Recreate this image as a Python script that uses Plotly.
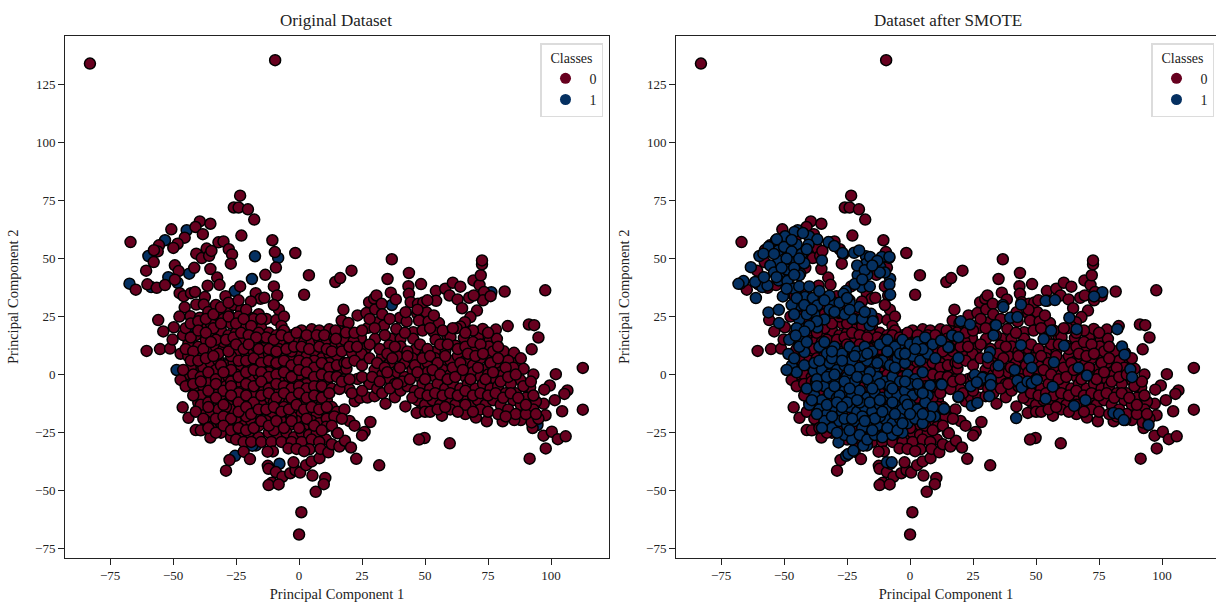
import plotly.graph_objects as go

RED = "#67001f"
BLUE = "#053061"

# Class 0 samples: (PC1, PC2)
outliers_0 = [(-83, 134), (-9.5, 135.5)]
upper_left_0 = [
    (-23.4,77.1),(-25.9,72),(-24,72),(-20.3,71.2),(-17.8,66.8),(-22.9,59.9),(-10.6,57.9),(-1.5,52.4),(-9.6,52.8),
    (-9.2,46.1),(-13.4,43),(3.9,42.8),(2,34.4),(14.4,39.9),(-10,38),(-8.7,34.1),(-66.9,57.1),(-50.7,62.6),
    (-39.4,66),(-35.2,65),(-41.1,63.6),(-38.2,60.5),(-45.4,59),(-48.2,56.4),(-49.9,54.6),(-55.6,55.7),(-56.1,53.1),
    (-57.6,53.6),(-57.7,48.5),(-60.7,44.8),(-49.3,47.1),(-47.8,44.6),(-41.6,46),(-40.8,52.1),(-38.6,50.2),(-36.7,54.3),
    (-35.7,51.2),(-34.8,53.3),(-32,57),(-30,57.4),(-27.9,54),(-26.6,51.8),(-27.1,47.8),(-35.2,45.5),(-32.5,41.8),
    (-31.6,38.7),(-36.3,38.3),(-60.2,38.9),(-64.8,36.6),(-56.5,37.4),(-53.2,38.6),(-49.3,40.9),(-23.4,38),(-29.2,33.8),
    (-17.2,35.1),(-15.3,32.7),(-13.8,33.1),(-19.1,31.5),(-47.4,35.1),(-45.8,33.8),(-42.9,35.1),(-41.3,35.6),(-37.4,33.4),
    (-45.4,29),(-40.8,30.2),(-37.8,30.2),(-47.5,25),(-43.1,25.2),(-39.4,24.5),(-55.9,23.5),(-49.7,20.4),(-53.9,18.6),
    (-60.5,10.2),(-55.2,11),(-51.2,11.2),(-50.2,15.1),(-16,26),(-13,24),(-9,23.5),(-8,28),(-10,30),(-6,25),(-7,21),
    (-3,17),(1,19),(5,19.5),(8,19),(12,19.5),(16,19),(19,17),
]
core_0 = [
    (-46,17),(-44,13),(-47,9),(-44,8),(-41,17),(-38,20),(-35,22),(-32,26),(-29,28),(-26,30),(-23,28),(-20,25),
    (-36,27),(-33,30),(-30,24),(-27,22),(-24,25),(-21,21),(-18,19),(-15,20),(-12,18),(-9,17),(-6,19),(-40,12),
    (-37,15),(-34,17),(-31,19),(-28,17),(-25,18),(-22,15),(-19,14),(-16,15),(-13,13),(-10,12),(-7,14),(-4,12),
    (-1,15),(2,14),(5,14),(8,15),(11,14),(14,12),(17,13),(-42,5),(-39,8),(-36,10),(-33,12),(-30,11),(-27,13),
    (-24,10),(-21,9),(-18,10),(-15,8),(-12,9),(-9,7),(-6,9),(-3,7),(0,9),(3,8),(6,10),(9,7),(12,9),(15,7),
    (-44,0),(-41,2),(-38,3),(-35,5),(-32,6),(-29,4),(-26,5),(-23,3),(-20,4),(-17,5),(-14,3),(-11,4),(-8,2),
    (-5,4),(-2,2),(1,4),(4,3),(7,1),(10,3),(13,1),(16,2),(-47,-2.3),(-43,-4),(-40,-2),(-37,-1),(-34,0),(-31,-2),
    (-28,-1),(-25,0),(-22,-2),(-19,-1),(-16,0),(-13,-2),(-10,-1),(-7,-3),(-4,-1),(-1,-3),(2,-1),(5,-3),(8,-2),
    (11,-4),(-41,-7),(-38,-5),(-35,-6),(-32,-8),(-29,-5),(-26,-7),(-23,-5),(-20,-7),(-17,-5),(-14,-7),(-11,-5),
    (-8,-7),(-5,-6),(-2,-8),(1,-6),(4,-8),(7,-6),(10,-8),(-40,-12),(-37,-10),(-34,-12),(-31,-10),(-28,-12),(-25,-10),
    (-22,-12),(-19,-10),(-16,-12),(-13,-10),(-10,-12),(-7,-10),(-4,-12),(-1,-10),(2,-12),(5,-10),(8,-12),(11,-11),
    (-38,-15),(-35,-17),(-32,-15),(-29,-17),(-26,-15),(-23,-17),(-20,-15),(-17,-17),(-14,-15),(-11,-17),(-8,-15),
    (-5,-17),(-2,-15),(1,-17),(4,-15),(7,-17),(10,-15),(13,-14),(15,-16),(-46.2,-14.1),(-43.9,-18.6),(-41,-23.9),
    (-35.2,-27.1),(-37,-20),(-34,-22),(-31,-21),(-28,-23),(-25,-20),(-22,-22),(-19,-20),(-16,-22),(-13,-20),(-10,-22),
    (-7,-20),(-4,-22),(-1,-20),(2,-22),(5,-20),(8,-21),(11,-19),(-31,-25),(-27,-27),(-23,-26),(-20,-25),(-16,-27),
    (-12,-25),(-8.4,-26.8),(-5,-25),(-2,-27),(1,-25),(4,-26),(7,-25),(10.7,-22.5),(15,-25),(10.7,-28),
    (-45,20),(-43,3),(-39,-9),(-30,14),(-17,12),(-8,11),(0,0),(-24,-3),(-12,1),(3,-4),(-33,2),(-18,-8),(-6,-14),
    (6,6),(-27,8),(-15,-13),(-3,-18),(9,-13),(-21,-18),(-10,-24),(-36,-3),(-29,-14),(-14,16),(-3,10),(12,5),
]
core_extra_0 = [
    (-43,22),(-40,23),(-37,24),(-34,26),(-31,29),(-28,31),(-24,32),(-21,28),(-18,24),(-15,24),(-34,20),(-31,22),(-28,25),
    (-25,22),(-22,24),(-19,21),(-16,18),(-13,16),(-10,15),(-7,17),(-43,16),(-40,19),(-37,18),(-33,15),(-29,15),(-26,16),
    (-23,18),(-20,17),(-17,16),(-4,16),(-1,18),(3,17),(7,17),(10,17),(14,16),(18,15),(-45,11),(-42,10),(-38,11),(-35,14),
    (-32,9),(-28,10),(-25,13),(-22,11),(-20,13),(-16,11),(-12,11),(-9,10),(-5,11),(-2,12),(1,12),(4,11),(8,12),(11,11),
    (13,10),(17,10),(-43,6),(-40,6),(-37,7),(-34,8),(-31,4),(-27,2),(-24,6),(-21,6),(-18,7),(-15,5),(-12,6),(-9,5),(-6,6),
    (-3,4),(0,6),(3,5),(6,3),(9,5),(12,3),(15,4),(18,5),(-46,2),(-42,0),(-39,-1),(-36,1),(-33,-2),(-30,1),(-27,-3),(-24,-1),
    (-21,1),(-18,2),(-15,1),(-12,-1),(-9,0),(-6,1),(-3,-1),(0,2),(3,1),(6,-1),(9,0),(12,-1),(15,-1),(18,-2),(-45,-5),
    (-42,-4),(-39,-3),(-36,-7),(-33,-4),(-30,-7),(-27,-5),(-24,-8),(-21,-4),(-18,-5),(-15,-3),(-12,-6),(-9,-4),(-6,-5),
    (-3,-6),(0,-5),(3,-6),(6,-5),(9,-5),(13,-6),(-42,-9),(-39,-13),(-36,-12),(-33,-10),(-30,-13),(-27,-9),(-24,-12),
    (-21,-9),(-18,-12),(-15,-9),(-12,-8),(-9,-10),(-6,-8),(-3,-10),(0,-8),(3,-10),(6,-9),(9,-10),(12,-8),(-41,-16),
    (-38,-19),(-36,-14),(-33,-19),(-30,-18),(-27,-19),(-24,-16),(-21,-14),(-19,-17),(-16,-15),(-13,-15),(-10,-14),(-7,-16),
    (-4,-15),(-1,-13),(2,-15),(5,-14),(8,-15),(11,-14),(14,-18),(-39,-24),(-36,-23),(-33,-25),(-30,-22),(-27,-24),(-24,-23),
    (-21,-24),(-18,-23),(-15,-20),(-12,-22),(-9,-20),(-6,-23),(-3,-20),(0,-23),(3,-19),(6,-22),(9,-24),(13,-22),(-25,-28),
    (-22,-29),(-19,-29),(-15,-29),(-11,-29),(-7,-29),(-3,-29),(1,-29),(5,-28),(8,-29),
]
lower_tail_0 = [
    (-29,-41.4),(-27.6,-36.8),(-22,-33.2),(-19.5,-36.4),(-12.4,-39.3),(-12.1,-40.6),(-9.2,-42),(-6.6,-44),(-3.5,-42.5),
    (-1.4,-41.2),(0.4,-42.2),(-2.2,-37.8),(2.8,-39),(5,-37.4),(8.1,-36),(5.3,-43.5),(10.4,-44.5),(9.8,-47.2),(6.6,-50.5),
    (0.9,-59.3),(0,-68.9),(-10.8,-46.6),(-12.1,-47.6),(-8.1,-47.3),(-4.2,-31.8),(4.1,-32.2),(8.5,-32),(11.6,-33.5),
    (-10.4,-33.1),(-12.5,-33.2),(-1,-32),(2,-33),(13,-30),(16,-31),(18.2,-28.5),(15.4,-25.3),(20.6,-31.4),(22.7,-36.3),
    (31.8,-39.1),(28.3,-20.4),(26,-24.7),(25,-26.2),
]
right_wing_0 = [
    (36.8,49.7),(20.8,44.8),(16.3,41.6),(43.6,43.8),(35.1,41.2),(48.4,39),(43.4,38.1),(43.6,34.8),(36.4,35.3),(38.4,32.4),
    (54.3,36),(54.4,31.8),(58,37),(61,39.6),(64,37.9),(59.7,34.1),(62.9,32.4),(64.7,28.6),(69.2,40.6),(71.6,38.6),(72.1,42.8),
    (72.6,47.5),(72.6,49.2),(73.4,35.6),(73,32),(76,33.8),(81.6,35.8),(97.7,36.3),(67.5,33.1),(69.3,34.1),(70.6,27.6),(68,24.8),
    (65.8,22.6),(64,20.7),(62.5,20),(82.8,20.9),(91.2,21.6),(93.3,21.3),(95,16),(92.3,10.9),(112.6,2.9),(101.9,0.2),(99.5,-4.7),
    (97.3,-6.5),(106.5,-6.8),(105.3,-8.3),(101.5,-11),(104.4,-15.8),(112.6,-15.1),(97.1,-12.6),(94,-11.6),(97.8,-17.5),(97,-26.3),
    (100.3,-24.6),(102.7,-27.8),(105.8,-26.6),(97.9,-31.8),(91.5,-36.2),(92.7,-23),(92.3,-20.6),(88,-19.6),(85.4,-19.6),(80.8,-20.1),
    (74.5,-20.1),(70.2,-18.5),(66,-17),(56.7,-17.7),(48,-15.8),(46.7,-16.5),(59.8,-29.6),(49.8,-27.3),(47.6,-28),(34.3,-12.5),
    (22.1,-11.5),(24.2,-10),(27.1,-9.9),(30,-9.3),(42.2,-13.7),(38,-9.8),(40.3,-6.9),(14.5,19),(16.9,23.3),(17.6,28),(19.6,22.2),
    (18.6,18.1),(23.2,25.5),(26.7,26.5),(27.8,31.2),(29.8,32.7),(30.7,34.1),(30.2,28.1),(32.8,30.5),(27.4,20.2),(31.1,22.6),(33.7,21.2),
    (24.5,15.8),(21.6,14.3),(30.2,15.4),(26.5,11.4),(21,9.4),(24.8,8.9),(18.8,2.5),(23.2,-1.9),(19.9,-6.2),(16,-6.2),(14.6,15.4),
    (38.6,19.7),(40,24.5),(42.7,22.9),(42.3,26.9),(46.9,26.2),(50.5,26.9),(47.6,23.3),(51.4,22.9),(55.5,22.2),(53.5,25.5),(44.3,31.2),
    (47.2,30.5),(49.3,31.1),(50.9,32),(45.3,18.3),(45.3,15.4),(53.5,18.3),(36.4,15.4),(40.3,15.4),(35.7,12.5),(40.3,12.1),(46.1,10.7),
    (54.2,15),(58.8,16.8),(60.1,16.1),(65.4,15.8),(71,16.1),(72.9,19.7),(78.1,19.4),(75.6,14.7),(78.5,15.4),(81.2,10.1),(85.3,9.4),
    (86.7,5.2),(89.1,2.5),(93,0),(91.7,-5.5),(87.8,-2.3),(83.8,-0.4),(80.5,3.2),(75.9,7.5),(75.3,12.1),(69.3,10.7),(62.1,12.4),
    (58,10),(53.9,9.7),(50.2,8.9),(33,8),(36,5),(39,8),(42,5),(45,7),(48,4),(51,5),(54,7),(57,4),(60,6),(63,8),(66,6),(69,4),(72,7),(75,3),
    (78,5),(30,2),(33,0),(36,-2),(39,1),(42,-1),(45,2),(48,-1),(51,1),(54,-1),(57,2),(60,0),(63,2),(66,-1),(69,1),(72,-1),(75,0),(78,-2),(81,0),
    (84,-4),(86,-8),(28,-4),(31,-6),(43,-5),(46,-7),(49,-4),(52,-6),(55,-4),(58,-6),(61,-4),(64,-6),(67,-4),(70,-6),(73,-4),(76,-6),(79,-5),
    (82,-8),(85,-11),(88,-13),(90,-10),(93,-15),(47,-11),(50,-13),(53,-11),(56,-13),(59,-11),(62,-13),(65,-10),(68,-13),(71,-11),(74,-13),
    (77,-11),(80,-13),(83,-15),(86,-17),(90,-17),(95,-19),(50,-16),(60,-15),(66,-13),(72,-15),(18,-15),(20,-20),(22,-22),(17,-19),
]
right_extra_0 = [
    (22,18),(25,19),(28,24),(33,26),(36,24),(20,12),(23,12),(28,13),(32,11),(35,9),(38,12),(43,10),(48,13),(51,11),(56,13),(59,13),
    (63,11),(66,12),(69,14),(72,13),(77,10),(79,12),(83,6),(85,3),(88,7),(19,5),(22,6),(25,4),(28,7),(31,5),(34,3),(37,7),(40,3),
    (43,8),(46,4),(49,7),(52,8),(55,5),(58,8),(61,3),(64,5),(67,9),(70,8),(73,9),(76,5),(79,7),(82,3),(17,-3),(20,-2),(25,-1),(29,-1),
    (32,-3),(35,1),(38,-4),(41,-3),(44,-2),(47,1),(50,-2),(53,2),(56,0),(59,-2),(62,-1),(65,2),(68,-2),(71,3),(74,-2),(77,1),(80,-3),
    (83,-1),(86,0),(89,-5),(92,-3),(21,-8),(25,-7),(33,-8),(36,-6),(39,-4),(45,-10),(48,-8),(51,-9),(54,-8),(57,-9),(60,-8),(63,-9),
    (66,-7),(69,-9),(72,-8),(75,-9),(78,-8),(81,-10),(84,-8),(87,-10),(90,-13),(93,-9),(52,-16),(55,-15),(58,-14),(63,-16),(69,-16),
    (75,-16),(79,-17),(82,-18),(94,-17),(49,19),(52,20),(57,19),(61,20),(42,18),(34,17),(30,20),(75,18),(69,19),(66,18),(47,28),
]

# Class 1 samples present in the original data
original_1 = [
    (-44.6,62.2),(-53.2,57.9),(-59.8,51.1),(-17.5,51),(-8.3,50.3),(-18.7,41.2),(-43.6,43.5),(-51.9,42),(-48.2,39.6),(-67.3,39.2),
    (-58.7,37.7),(-25.5,36),(-28.3,26.6),(-16,21.2),(-44.3,15.9),(-42.7,19.7),(-4.2,13.1),(2.1,9.1),(-41.9,9.7),(-29.5,4.8),
    (-48.6,2),(-38.2,1.5),(-26.2,7.5),(-37.4,-2.9),(3.5,-5.2),(-30.3,-14.8),(-35,-16),(9.8,-18),(-17.1,-30.5),(-18.6,-30.6),
    (-25.4,-35),(-7.8,-38.4),(-17.2,-18.4),(-32.8,-22),(36.8,30),(76.3,35.5),(27.5,-2.7),(94.6,-21.7),
]

# Class 1 samples added by SMOTE
smote_upper_1 = [
    (-45.9,61.5),(-49.6,59.6),(-52.9,58.3),(-56.2,55),(-58.2,52.1),(-45,56.1),(-40.1,59.6),(-36.8,58.3),(-40.3,56),(-52.2,53.5),
    (-52.2,48.9),(-55.5,47),(-47.2,48.5),(-48.9,45.3),(-44,42.8),(-35,49.2),(-63.2,46.3),(-66.1,40.3),(-68.1,39.1),(-61.5,39.9),
    (-56.6,38.4),(-52.2,40.6),(-48.7,40.3),(-61.2,33),(-50.5,33.7),(-46.3,37),(-41.7,33.4),(-38.6,33),(-56.2,26.8),(-52.1,27.9),
    (-52,22.2),(-43.6,29.8),(-44,23.8),(-36.8,29.8),(-34,23.8),(-36.8,20.3),(-30.4,31.2),(-26.4,34.8),(-28.4,27),(-22.9,24),
    (-20.2,29.1),(-15.5,26.2),(-14.8,23),(-32.4,57.1),(-30.1,55.4),(-26.8,52.4),(-22.2,52.5),(-20.2,53.5),(-17.4,47.8),(-15.9,50.7),
    (-20.8,42.9),(-19.2,37.7),(-11.2,50.7),(-8.2,50.7),(-11.9,46.4),(-7.9,41.3),(-8.2,38.9),(-7.9,34.5),(-54,52),(-50,55),(-47,53),
    (-43,52),(-49,50),(-54,44),(-58,42),(-46,46),(-51,46),(-42,48),(-44,38),(-40,38),(-36,36),(-32,34),(-28,31),(-24,31),(-38,26),
    (-32,28),(-26,26),(-19,24),(-41,26),(-47,30),(-17,43),(-21,47),(-13,49),(-10,44),(-16,38),(-22,39),(-42.5,61),(-47,58),
    (-44,50),(-41,54),(-46,43),(-53,42),(-49,37),(-45,33),(-42,30),(-39,28),(-34,32),(-30,27),(-24,28),(-18,27),(-25,33),(-12,44),
    (-18,45),(-15,47),(-19,41),(-37,23),(-40,21),(-46,26),(-45,20),(-48,15),
]
smote_core_1 = [
    (-41.9,18.6),(-45.4,16.8),(-48.3,8.9),(-47,3.9),(-45,1),(-49,2),(-44,12),(-41,14),(-46,7),(-42,4),(16.9,16.8),(15.6,11.8),
    (7.9,-4.7),(12.3,-4),(13.5,-14.8),(19.2,-9.8),(-28.4,-29.2),(-24.5,-34.2),(-22.5,-32.8),(-9.2,-37.8),(-7.3,-37.8),
    (-36,12),(-33,9),(-30,12),(-27,9),(-24,12),(-21,10),(-18,12),(-15,10),(-12,13),(-9,15),(-6,12),(-3,15),(0,13),(3,14),(6,16),(9,13),
    (-38,5),(-35,2),(-32,5),(-29,2),(-26,4),(-23,6),(-20,3),(-17,6),(-14,3),(-11,6),(-8,4),(-5,7),(-2,5),(1,8),(4,6),(7,9),(10,7),
    (-37,-2),(-34,-5),(-31,-2),(-28,-4),(-25,-1),(-22,-3),(-19,-1),(-16,-4),(-13,-1),(-10,-3),(-7,-1),(-4,-3),(-1,0),(2,-2),(5,1),
    (-38,-9),(-35,-11),(-32,-8),(-29,-10),(-26,-7),(-23,-9),(-20,-7),(-17,-10),(-14,-8),(-11,-10),(-8,-8),(-5,-9),(-2,-7),(1,-9),(4,-7),(7,-9),
    (-36,-15),(-33,-17),(-30,-14),(-27,-16),(-24,-14),(-21,-16),(-18,-14),(-15,-16),(-12,-13),(-9,-15),(-6,-13),(-3,-15),(0,-13),(3,-15),(6,-12),(9,-14),
    (-34,-20),(-31,-23),(-28,-20),(-25,-22),(-22,-20),(-19,-23),(-16,-20),(-13,-22),(-10,-19),(-7,-21),(-4,-19),(-1,-21),(2,-19),(5,-21),(8,-18),
    (-26,-26),(-23,-28),(-20,-26),(-17,-28),(-14,-26),(-11,-27),(-7,-26),(-3,-25),(-37,-17),(-40,-13),(-41,-6),(-32,0),(-24,2),(-16,1),(-8,-5),(0,-4),
    (-12,-18),(-28,-9),(-20,-12),(-4,9),(-31,7),(-19,8),(-2,-11),(5,11),(-26,-19),(-15,-24),
    (-34,14),(-31,10),(-27,6),(-22,8),(-17,9),(-13,5),(-9,10),(-6,3),(-2,9),(2,11),(-36,6),(-33,-1),(-30,-5),(-26,-3),(-21,-1),(-17,-2),
    (-12,-4),(-7,-6),(-2,-3),(3,-4),(-37,-5),(-33,-13),(-29,-12),(-25,-12),(-21,-11),(-16,-12),(-12,-11),(-7,-12),(-1,-13),(5,-8),
    (-35,-23),(-29,-25),(-24,-24),(-19,-18),(-14,-19),(-9,-23),(-5,-24),(0,-17),(5,-17),(-31,-18),(-27,-14),(-23,-19),(-18,-20),
    (-6,-17),(-3,-21),(-11,-16),(-15,-6),(-24,-6),(-30,0),(-39,-11),
]
smote_right_1 = [
    (37,29.1),(44,30.2),(39.7,24.5),(42.6,24.8),(53.8,31.8),(57.5,32.1),(73,33.7),(63.2,24.5),(66.1,19.6),(56,19),(53,15.3),
    (61.1,12.4),(44,12.7),(82.2,19.6),(84.1,12.1),(85.1,8.6),(87.4,2.3),(88.1,-1.1),(20.1,23),(23.8,21.6),(34.1,21.3),(33.1,16.9),
    (16.7,16.9),(19.2,16.1),(15.2,11.8),(12.3,14.7),(31.7,9.7),(30.8,7.4),(19.2,7.2),(47.2,6.8),(35.1,3.9),(41.5,2),(48.3,3),
    (57.1,5.3),(66.8,3),(70.2,-0.4),(25.7,-0.1),(28.7,-1.4),(32,-1.9),(32,-4.5),(24.1,-5),(26.5,-3.3),(12.6,-4.3),(42.6,-2.6),
    (44.3,-5.5),(46.6,-3),(48.3,-3.7),(50.3,-2.3),(56.6,-5.2),(19.2,-9.5),(31.4,-9.3),(53.8,-10.4),(69.6,-11),(65.1,-13.5),(13.5,-14.8),
    (24.5,-13.4),(26.7,-12.2),(42.1,-18.7),(80.7,-16.5),(82.9,-17),(84.8,-19.6),
]

TICKS_X = [-75, -50, -25, 0, 25, 50, 75, 100]
TICKS_Y = [-75, -50, -25, 0, 25, 50, 75, 100, 125]
TITLES = ["Original Dataset", "Dataset after SMOTE"]
CLASS_NAMES = ["0", "1"]

class0 = outliers_0 + upper_left_0 + core_0 + core_extra_0 + lower_tail_0 + right_wing_0 + right_extra_0
class1_all = original_1 + smote_upper_1 + smote_core_1 + smote_right_1


def scatter(points, color, xa, ya):
    return go.Scatter(
        x=[p[0] for p in points], y=[p[1] for p in points], mode="markers", xaxis=xa, yaxis=ya,
        showlegend=False, hoverinfo="skip",
        marker=dict(color=color, size=11, line=dict(color="black", width=1.5)),
    )


def legend_entry(name, color, legend):
    return go.Scatter(
        x=[None], y=[None], mode="markers", name=name, legend=legend,
        marker=dict(color=color, size=11, line=dict(width=0)),
    )


fig = go.Figure()
fig.add_trace(scatter(original_1, BLUE, "x", "y"))
fig.add_trace(scatter(class0, RED, "x", "y"))
fig.add_trace(scatter(class0, RED, "x2", "y2"))
fig.add_trace(scatter(class1_all, BLUE, "x2", "y2"))
for leg in ("legend", "legend2"):
    fig.add_trace(legend_entry(CLASS_NAMES[0], RED, leg))
    fig.add_trace(legend_entry(CLASS_NAMES[1], BLUE, leg))

W, H = 1216, 602
y_dom = [1 - 557.5 / H, 1 - 36 / H]
common = dict(
    showgrid=False, zeroline=False, showline=True, linecolor="#222222", linewidth=1,
    ticks="outside", ticklen=6, tickwidth=1, tickcolor="#222222",
    tickfont=dict(size=13, color="#222222"),
)
x_title = dict(text="Principal Component 1", font=dict(size=14.5, color="#222222"), standoff=7)
y_title = dict(text="Principal Component 2", font=dict(size=14.5, color="#222222"), standoff=12)


def legend_style(x):
    return dict(
        x=x, y=1 - 43 / H, xanchor="left", yanchor="top",
        title=dict(text="Classes", side="top center", font=dict(size=14, color="#222222")),
        font=dict(size=14, color="#222222"), bordercolor="#dcdcdc", borderwidth=1.5,
        bgcolor="rgba(255,255,255,0.8)", itemclick=False, itemdoubleclick=False,
        tracegroupgap=0, itemwidth=38,
    )


fig.update_layout(
    width=W, height=H, margin=dict(l=0, r=0, t=0, b=0), autosize=False,
    paper_bgcolor="white", plot_bgcolor="white",
    font=dict(family="Liberation Serif", color="#222222"),
    xaxis=dict(domain=[65 / W, 609 / W], range=[-92.9, 123], tickvals=TICKS_X, mirror=True, title=x_title, anchor="y", **common),
    yaxis=dict(domain=y_dom, range=[-78.8, 145.9], tickvals=TICKS_Y, mirror=True, title=y_title, anchor="x", **common),
    xaxis2=dict(domain=[676 / W, 1], range=[-92.9, 121.4], tickvals=TICKS_X, mirror=True, title=x_title, anchor="y2", **common),
    yaxis2=dict(domain=y_dom, range=[-78.8, 145.9], tickvals=TICKS_Y, title=y_title, anchor="x2", **common),
    legend=legend_style(540 / W),
    legend2=legend_style(1151 / W),
    annotations=[
        dict(text=TITLES[0], xref="paper", yref="paper", x=335.5 / W, y=1 - 21 / H, showarrow=False,
             font=dict(size=17, color="#222222"), xanchor="center", yanchor="middle"),
        dict(text=TITLES[1], xref="paper", yref="paper", x=947.5 / W, y=1 - 21 / H, showarrow=False,
             font=dict(size=17, color="#222222"), xanchor="center", yanchor="middle"),
    ],
)

fig.write_html(
    "out.html",
    config=dict(displayModeBar=False),
    post_script="document.body.style.margin='0';document.body.style.overflow='hidden';",
)
